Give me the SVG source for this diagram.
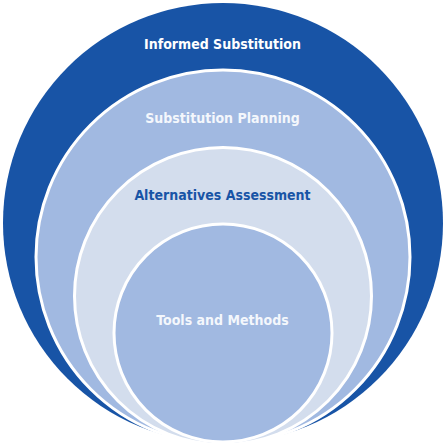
<svg xmlns="http://www.w3.org/2000/svg" width="446" height="446" viewBox="0 0 446 446">
<style>
.ring{stroke:#ffffff;stroke-width:3}
.lbl{font-family:"DejaVu Sans Condensed","DejaVu Sans",Verdana,sans-serif;font-weight:bold;font-size:14px;text-anchor:middle}
</style>
<rect width="446" height="446" fill="#ffffff"/>
<g id="informed-substitution">
<circle cx="223" cy="223" r="220" fill="#1854A6"/>
<text class="lbl" x="222.5" y="48.5" fill="#ffffff">Informed Substitution</text>
</g>
<g id="substitution-planning">
<circle class="ring" cx="223" cy="257" r="187" fill="#A1B9E1"/>
<text class="lbl" x="222.5" y="123" fill="#F4F7FC">Substitution Planning</text>
</g>
<g id="alternatives-assessment">
<circle class="ring" cx="223" cy="296" r="148.5" fill="#D3DDED"/>
<text class="lbl" x="222.5" y="200" fill="#1854A6">Alternatives Assessment</text>
</g>
<g id="tools-and-methods">
<circle class="ring" cx="223" cy="333" r="109" fill="#A1B9E1"/>
<text class="lbl" x="222.5" y="325" fill="#F4F7FC">Tools and Methods</text>
</g>
<g id="connectors"/>
</svg>
